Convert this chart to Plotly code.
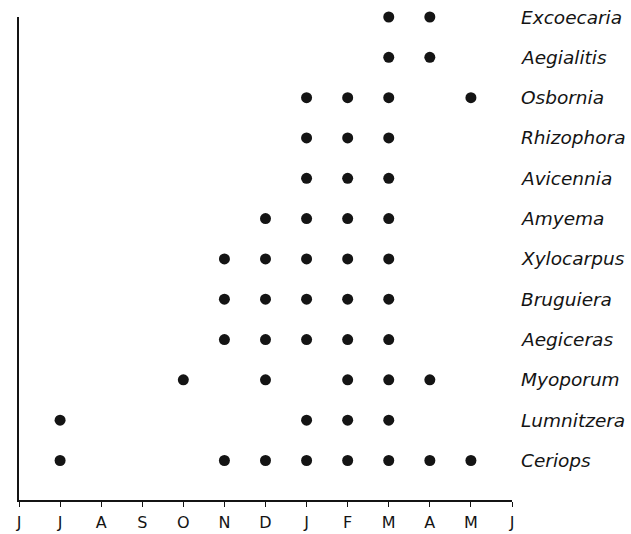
import plotly.graph_objects as go

month_labels = ["J", "J", "A", "S", "O", "N", "D", "J", "F", "M", "A", "M", "J"]

species = ["Ceriops", "Lumnitzera", "Myoporum", "Aegiceras", "Bruguiera",
           "Xylocarpus", "Amyema", "Avicennia", "Rhizophora", "Osbornia",
           "Aegialitis", "Excoecaria"]

# month index (0 = first J on the axis) of each flowering record, per species
ceriops = [1, 5, 6, 7, 8, 9, 10, 11]
lumnitzera = [1, 7, 8, 9]
myoporum = [4, 6, 8, 9, 10]
aegiceras = [5, 6, 7, 8, 9]
bruguiera = [5, 6, 7, 8, 9]
xylocarpus = [5, 6, 7, 8, 9]
amyema = [6, 7, 8, 9]
avicennia = [7, 8, 9]
rhizophora = [7, 8, 9]
osbornia = [7, 8, 9, 11]
aegialitis = [9, 10]
excoecaria = [9, 10]

records = [ceriops, lumnitzera, myoporum, aegiceras, bruguiera, xylocarpus,
           amyema, avicennia, rhizophora, osbornia, aegialitis, excoecaria]

xs, ys = [], []
for row, months in enumerate(records):
    for m in months:
        xs.append(m)
        ys.append(row)

fig = go.Figure()
fig.add_trace(go.Scatter(
    x=xs, y=ys, mode="markers", cliponaxis=False,
    marker=dict(size=11, color="#141414"),
    hoverinfo="skip", showlegend=False,
))

for row, name in enumerate(species):
    fig.add_annotation(
        x=12, y=row, xref="x", yref="y", text="<i>" + name + "</i>",
        showarrow=False, xanchor="left", xshift=7,
        font=dict(family="DejaVu Sans", size=18.5, color="#141414"),
    )

fig.update_layout(
    width=631, height=534,
    margin=dict(l=19, r=119, t=17, b=34, autoexpand=False),
    plot_bgcolor="white", paper_bgcolor="white",
    xaxis=dict(
        range=[0, 12], tickmode="array", tickvals=list(range(13)),
        ticktext=month_labels, showgrid=False, zeroline=False,
        showline=True, linecolor="#141414", linewidth=1.5, automargin=False,
        ticks="outside", ticklen=5, tickcolor="#141414", tickwidth=1.2,
        ticklabelstandoff=2,
        tickfont=dict(family="DejaVu Sans", size=16, color="#141414"),
    ),
    yaxis=dict(
        range=[-0.98, 11.0], showgrid=False, zeroline=False, showticklabels=False,
        showline=True, linecolor="#141414", linewidth=1.5, ticks="",
        automargin=False,
    ),
)

fig.write_html(
    "out.html",
    config={"displayModeBar": False},
    post_script="document.body.style.margin='0';document.body.style.padding='0';",
)
